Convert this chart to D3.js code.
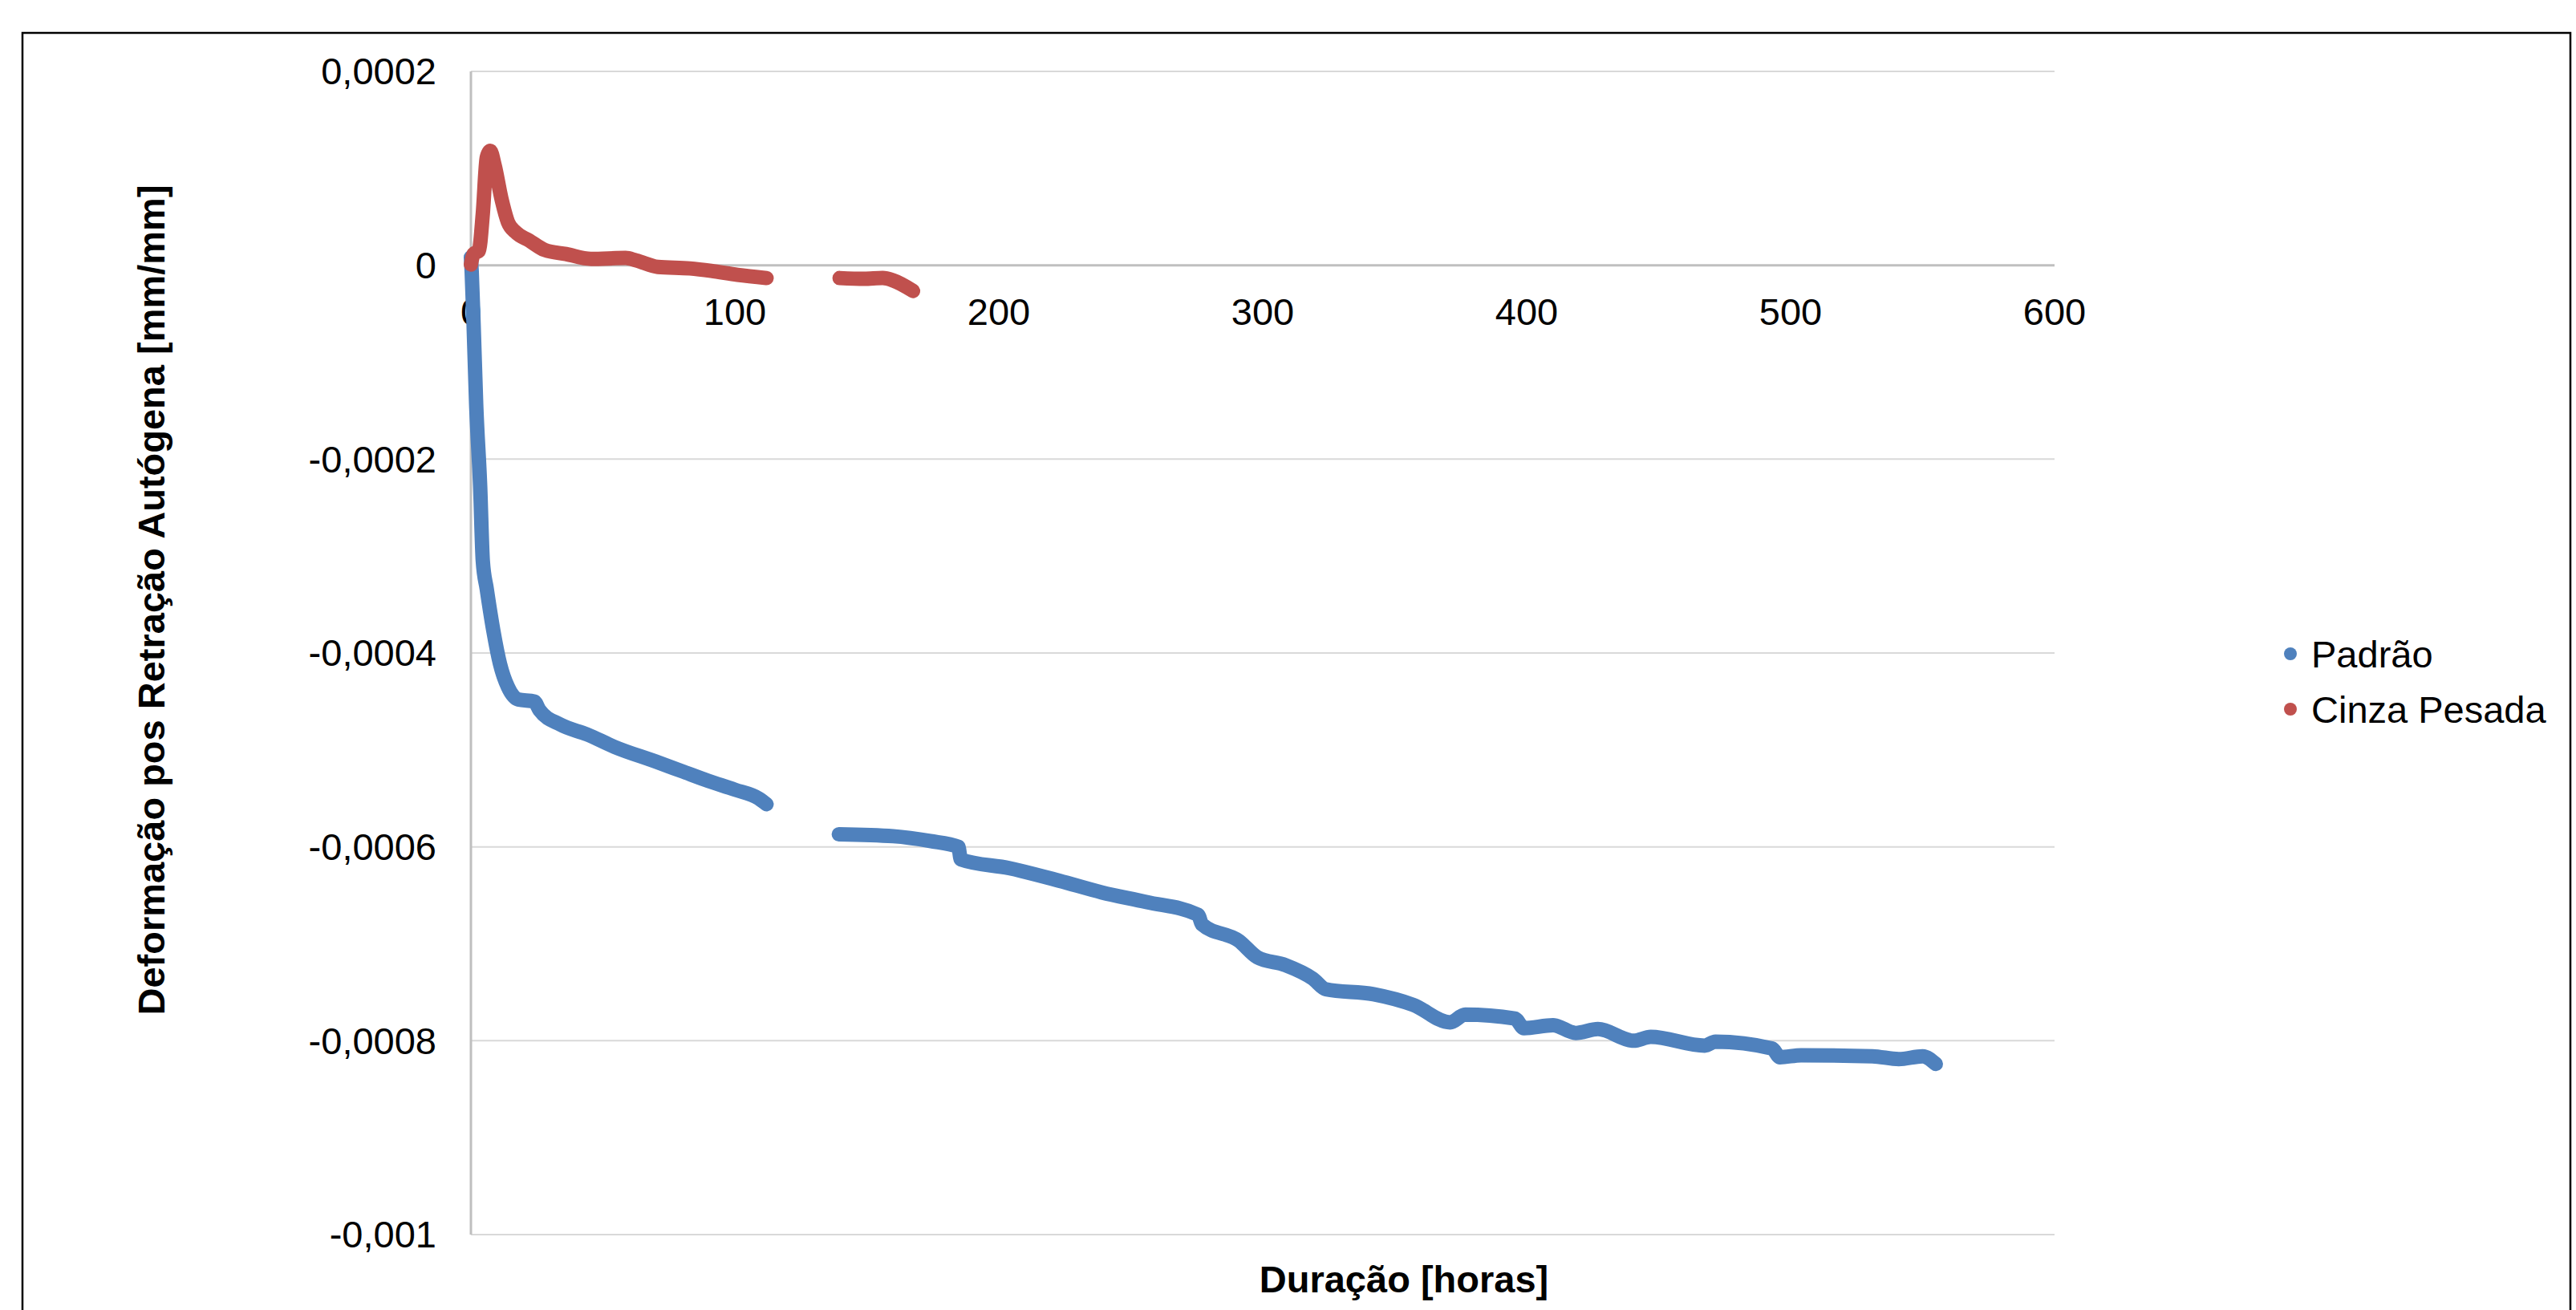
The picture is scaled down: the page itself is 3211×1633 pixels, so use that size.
<!DOCTYPE html>
<html>
<head>
<meta charset="utf-8">
<script src="https://cdn.jsdelivr.net/npm/d3@7"></script>
<style>
  body { margin: 0; background: #fff; }
  text { font-family: "Liberation Sans", Arial, sans-serif; }
</style>
</head>
<body>
<div id="chart"></div>
<script>
// Horas de ensaio (null = intervalo sem leitura)
var horasPadrao = [0, 0.3, 1, 2, 3.5, 4.5, 6, 8.5, 11, 14, 18, 24, 26, 34, 44, 54.5, 70, 80, 90, 100, 109, 112,
    null,
    139.4, 160, 174, 184.7, 185.6, 204, 223, 239, 256, 275.5, 277, 291, 298, 308.6, 319, 324, 342, 357, 371,
    376.7, 395.5, 399, 410, 418.6, 427, 440.5, 447, 467.5, 471.5, 493, 496, 504, 531, 541, 550, 555];
var padrao = [0.0000083, -0.0000066, -0.0000596, -0.000144, -0.000228, -0.000305, -0.000334, -0.000377, -0.000411,
    -0.000435, -0.000448, -0.00045, -0.000459, -0.000474, -0.000484, -0.000497, -0.000512, -0.000522, -0.000532,
    -0.000541, -0.00055, -0.000556,
    null,
    -0.000587, -0.000589, -0.000594, -0.0006, -0.000613, -0.000622, -0.000635, -0.000647, -0.000657, -0.00067,
    -0.00068, -0.000697, -0.000714, -0.000722, -0.000736, -0.000747, -0.000752, -0.000763, -0.000781, -0.000773,
    -0.000777, -0.000787, -0.000784, -0.000792, -0.000788, -0.0008, -0.000796, -0.000805, -0.000801, -0.000808,
    -0.000817, -0.000815, -0.000816, -0.000819, -0.000816, -0.000824];

var horasCinza = [0, 1, 3, 4.5, 6, 7.3, 9, 11.5, 14, 17, 22, 28, 36, 45.5, 58.6, 62.6, 70.8, 83, 91, 101, 112,
    null,
    139.7, 149, 156, 160, 167.5];
var cinzaPesada = [0.0000008, 0.0000116, 0.0000149, 0.000053, 0.000111, 0.000118, 0.000103, 0.0000695, 0.0000447,
    0.000034, 0.0000257, 0.0000157, 0.0000116, 0.0000066, 0.0000075, 0.000005, -0.0000017, -0.0000033, -0.0000058,
    -0.0000099, -0.0000132,
    null,
    -0.0000132, -0.000014, -0.0000132, -0.0000157, -0.0000265];

var xTicks = [0, 100, 200, 300, 400, 500, 600];
var yTicks = [0.0002, 0, -0.0002, -0.0004, -0.0006, -0.0008, -0.001];
var nomesSeries = ["Padrão", "Cinza Pesada"];
var cores = ["#4F81BD", "#C0504D"];

var width = 3211;
var height = 1633;
var margin = { left: 587, right: 650, top: 89, bottom: 94 };

var svg = d3.select("#chart").append("svg")
    .attr("width", width)
    .attr("height", height);

// Moldura do gráfico
svg.append("rect")
    .attr("x", 28).attr("y", 41)
    .attr("width", 3176).attr("height", 1640)
    .attr("fill", "none")
    .attr("stroke", "#000")
    .attr("stroke-width", 2.5);

var x = d3.scaleLinear().domain([0, 600]).range([margin.left, width - margin.right]);
var y = d3.scaleLinear().domain([-0.001, 0.0002]).range([height - margin.bottom, margin.top]);

function fmt(v) {
    return String(+v.toFixed(4)).replace(".", ",");
}

// Linhas de grade
svg.append("g")
    .selectAll("line")
    .data(yTicks)
    .enter()
    .append("line")
    .attr("x1", x(0)).attr("x2", x(600))
    .attr("y1", function(d) { return y(d); })
    .attr("y2", function(d) { return y(d); })
    .attr("stroke", function(d) { return d === 0 ? "#bfbfbf" : "#d9d9d9"; })
    .attr("stroke-width", function(d) { return d === 0 ? 3 : 2; });

// Eixo vertical
svg.append("line")
    .attr("x1", x(0)).attr("x2", x(0))
    .attr("y1", y(0.0002)).attr("y2", y(-0.001))
    .attr("stroke", "#bfbfbf")
    .attr("stroke-width", 3);

// Rótulos do eixo y
svg.append("g")
    .selectAll("text")
    .data(yTicks)
    .enter()
    .append("text")
    .attr("x", 544)
    .attr("y", function(d) { return y(d); })
    .attr("dy", "0.35em")
    .attr("text-anchor", "end")
    .attr("font-size", 47)
    .text(function(d) { return fmt(d); });

// Rótulos do eixo x (junto à linha do zero)
svg.append("g")
    .selectAll("text")
    .data(xTicks)
    .enter()
    .append("text")
    .attr("x", function(d) { return x(d); })
    .attr("y", y(0) + 74)
    .attr("text-anchor", "middle")
    .attr("font-size", 47)
    .text(function(d) { return d; });

// Séries
var series = [
    { nome: nomesSeries[0], cor: cores[0], pts: horasPadrao.map(function(h, i) { return { h: h, v: padrao[i] }; }) },
    { nome: nomesSeries[1], cor: cores[1], pts: horasCinza.map(function(h, i) { return { h: h, v: cinzaPesada[i] }; }) }
];

var line = d3.line()
    .defined(function(d) { return d.v !== null; })
    .x(function(d) { return x(d.h); })
    .y(function(d) { return y(d.v); })
    .curve(d3.curveMonotoneX);

svg.append("g")
    .selectAll("path")
    .data(series)
    .enter()
    .append("path")
    .attr("d", function(d) { return line(d.pts); })
    .attr("fill", "none")
    .attr("stroke", function(d) { return d.cor; })
    .attr("stroke-width", 18)
    .attr("stroke-linecap", "round")
    .attr("stroke-linejoin", "round");

// Títulos dos eixos
svg.append("text")
    .attr("x", 1750)
    .attr("y", 1611)
    .attr("text-anchor", "middle")
    .attr("font-size", 47)
    .attr("font-weight", "bold")
    .text("Duração [horas]");

svg.append("text")
    .attr("transform", "translate(205,748) rotate(-90)")
    .attr("text-anchor", "middle")
    .attr("font-size", 47)
    .attr("font-weight", "bold")
    .text("Deformação pos Retração Autógena [mm/mm]");

// Legenda
var legend = svg.append("g")
    .selectAll("g")
    .data(series)
    .enter()
    .append("g")
    .attr("transform", function(d, i) { return "translate(2855," + (815 + i * 69) + ")"; });

legend.append("circle")
    .attr("r", 8)
    .attr("fill", function(d) { return d.cor; });

legend.append("text")
    .attr("x", 26)
    .attr("y", 17)
    .attr("font-size", 47)
    .text(function(d) { return d.nome; });
</script>
</body>
</html>
